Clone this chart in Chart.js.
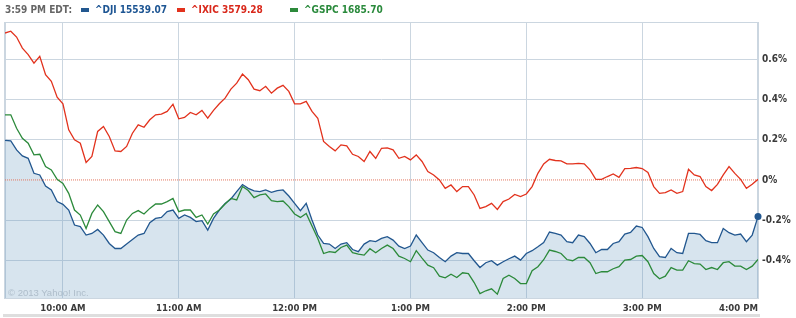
<!DOCTYPE html>
<html>
<head>
<meta charset="utf-8">
<script src="https://cdn.jsdelivr.net/npm/chart.js@4.4.0/dist/chart.umd.min.js"></script>
<style>
  html, body { margin: 0; padding: 0; background: #fff; }
  #wrap { position: relative; width: 796px; height: 318px; overflow: hidden; }
  #myChart { position: absolute; left: 0; top: 0; }
  #cabecera { position: absolute; left: 0; top: 0; height: 20px; width: 796px;
    font: bold 10px "DejaVu Sans Condensed", "DejaVu Sans", sans-serif; }
  #cabecera span { position: absolute; top: 4px; white-space: nowrap; }
  #cabecera i { position: absolute; top: 8px; width: 8px; height: 4px; }
  #copy { position: absolute; left: 8px; top: 287px; color: #aebdca;
    font: 9.5px "Liberation Sans", Arial, sans-serif; }
  #raya { position: absolute; left: 3px; top: 314px; width: 757px; height: 3px; background: #dedede; }
</style>
</head>
<body>
<div id="wrap">
  <canvas id="myChart" width="796" height="318"></canvas>
  <div id="cabecera"></div>
  <div id="copy">© 2013 Yahoo! Inc.</div>
  <div id="raya"></div>
</div>
<script>
// hora de la cabecera y nombres de los indices
let horaCierre = '3:59 PM EDT:';
let nombres = ['^DJI', '^IXIC', '^GSPC'];
let cierres = ['15539.07', '3579.28', '1685.70'];
let colores = ['#22578f', '#e2321d', '#2c8a3b'];
let coloresTexto = ['#1d5593', '#d9281b', '#2a8a3c'];
let legendaX = [81, 177, 290];

// eje x: minutos desde las 9:30
let pasoMin = 3;
let xTicks = [0, 30, 90, 150, 210, 270, 330, 390];
let xEtiquetas = ['', '10:00 AM', '11:00 AM', '12:00 PM', '1:00 PM', '2:00 PM', '3:00 PM', '4:00 PM'];

// eje y: cambio en %
let yTicks = [-0.4, -0.2, 0, 0.2, 0.4, 0.6];
let yEtiquetas = ['-0.4%', '-0.2%', '0%', '0.2%', '0.4%', '0.6%'];

// series (% de cambio cada 3 minutos)
let dji = [
  0.197, 0.195, 0.15, 0.12, 0.108, 0.033, 0.025, -0.03, -0.05, -0.108, -0.122, -0.15, -0.225, -0.233, -0.275, -0.267, -0.247, -0.275, -0.317, -0.342, -0.342, -0.32,
  -0.297, -0.275, -0.267, -0.213, -0.192, -0.187, -0.158, -0.15, -0.192, -0.175, -0.187, -0.208, -0.203, -0.25, -0.192, -0.15, -0.117, -0.095, -0.058, -0.023, -0.042, -0.055,
  -0.058, -0.05, -0.062, -0.053, -0.05, -0.08, -0.117, -0.153, -0.117, -0.2, -0.275, -0.317, -0.32, -0.342, -0.32, -0.313, -0.347, -0.358, -0.32, -0.303, -0.308, -0.292,
  -0.283, -0.3, -0.33, -0.342, -0.33, -0.275, -0.313, -0.35, -0.363, -0.387, -0.408, -0.38, -0.363, -0.367, -0.367, -0.403, -0.437, -0.413, -0.403, -0.425, -0.408, -0.393,
  -0.38, -0.4, -0.367, -0.353, -0.333, -0.312, -0.26, -0.267, -0.275, -0.308, -0.313, -0.275, -0.283, -0.317, -0.363, -0.347, -0.347, -0.317, -0.308, -0.27, -0.262, -0.23,
  -0.237, -0.283, -0.342, -0.383, -0.387, -0.342, -0.363, -0.367, -0.267, -0.267, -0.272, -0.303, -0.313, -0.313, -0.242, -0.263, -0.275, -0.27, -0.308, -0.275, -0.183
];
let ixic = [
  0.733, 0.742, 0.713, 0.658, 0.625, 0.583, 0.617, 0.525, 0.492, 0.413, 0.38, 0.25, 0.2, 0.183, 0.087, 0.117, 0.242, 0.267, 0.217, 0.145, 0.142, 0.167,
  0.233, 0.275, 0.263, 0.3, 0.325, 0.328, 0.342, 0.378, 0.305, 0.312, 0.337, 0.325, 0.347, 0.308, 0.347, 0.38, 0.408, 0.453, 0.483, 0.528, 0.5, 0.453,
  0.445, 0.467, 0.433, 0.458, 0.472, 0.442, 0.38, 0.38, 0.392, 0.342, 0.308, 0.192, 0.167, 0.145, 0.175, 0.17, 0.128, 0.117, 0.092, 0.142, 0.108, 0.158,
  0.16, 0.15, 0.108, 0.117, 0.1, 0.125, 0.092, 0.042, 0.025, 0, -0.042, -0.025, -0.058, -0.033, -0.033, -0.075, -0.142, -0.133, -0.117, -0.147, -0.108, -0.095,
  -0.072, -0.083, -0.07, -0.033, 0.033, 0.08, 0.103, 0.097, 0.095, 0.08, 0.08, 0.083, 0.08, 0.05, 0.003, 0.003, 0.017, 0.03, 0.013, 0.057, 0.058, 0.062,
  0.057, 0.037, -0.033, -0.067, -0.063, -0.05, -0.067, -0.058, 0.053, 0.025, 0.017, -0.033, -0.053, -0.022, 0.025, 0.067, 0.033, 0.003, -0.042, -0.022, 0.003
];
let gspc = [
  0.325, 0.325, 0.258, 0.208, 0.183, 0.125, 0.128, 0.067, 0.05, 0.003, -0.017, -0.067, -0.15, -0.175, -0.242, -0.167, -0.125, -0.158, -0.208, -0.258, -0.267, -0.2,
  -0.167, -0.153, -0.17, -0.142, -0.12, -0.12, -0.108, -0.092, -0.158, -0.15, -0.15, -0.187, -0.175, -0.22, -0.17, -0.15, -0.12, -0.092, -0.1, -0.033, -0.053, -0.088,
  -0.075, -0.07, -0.103, -0.108, -0.105, -0.133, -0.17, -0.187, -0.167, -0.23, -0.292, -0.367, -0.358, -0.362, -0.337, -0.325, -0.363, -0.37, -0.375, -0.343, -0.363, -0.342,
  -0.325, -0.342, -0.38, -0.392, -0.408, -0.353, -0.39, -0.425, -0.438, -0.48, -0.488, -0.47, -0.487, -0.463, -0.467, -0.512, -0.567, -0.553, -0.543, -0.57, -0.492, -0.475,
  -0.492, -0.517, -0.517, -0.453, -0.433, -0.398, -0.35, -0.357, -0.367, -0.397, -0.403, -0.387, -0.387, -0.413, -0.467, -0.458, -0.458, -0.443, -0.433, -0.4, -0.397, -0.38,
  -0.377, -0.408, -0.467, -0.493, -0.48, -0.437, -0.45, -0.45, -0.403, -0.417, -0.42, -0.447, -0.437, -0.447, -0.413, -0.408, -0.43, -0.43, -0.447, -0.43, -0.397
];
let linea0 = [0, 0];

let colorRejilla = '#cbd6e0';

function puntos(valores) {
  let res = [];
  for (var i = 0; i < valores.length; i++) {
    res.push({ x: i * pasoMin, y: valores[i] });
  }
  return res;
}

// cabecera
let cab = document.getElementById('cabecera');
cab.innerHTML = `<span style="left:5px;color:#666">${horaCierre}</span>`;
for (var i = 0; i < nombres.length; i++) {
  cab.innerHTML += `<i style="left:${legendaX[i]}px;background:${colores[i]}"></i>` +
    `<span style="left:${legendaX[i] + 14}px;color:${coloresTexto[i]}">${nombres[i]} ${cierres[i]}</span>`;
}

// borde del area de dibujo
let borde = {
  id: 'borde',
  beforeDatasetsDraw(chart) {
    let a = chart.chartArea;
    let c = chart.ctx;
    c.save();
    c.strokeStyle = colorRejilla;
    c.lineWidth = 1;
    c.strokeRect(Math.round(a.left) - 0.5, Math.round(a.top) + 0.5, Math.round(a.right - a.left), Math.round(a.bottom - a.top));
    c.restore();
  }
};

let ultimo = dji.length - 1;
let ctx = document.getElementById('myChart').getContext('2d');
let chart = new Chart(ctx, {
  type: 'line',
  data: {
    datasets: [
      {
        label: nombres[0], data: puntos(dji), borderColor: colores[0], borderWidth: 1.3,
        backgroundColor: 'rgba(100,150,190,0.26)', fill: 'start', tension: 0,
        pointRadius: (c) => c.dataIndex === ultimo ? 3.5 : 0,
        pointBackgroundColor: colores[0], pointBorderWidth: 0,
        clip: { left: 0, top: 0, right: 6, bottom: 0 }, order: 4
      },
      {
        label: 'cero', data: [{ x: 0, y: linea0[0] }, { x: 390, y: linea0[1] }],
        borderColor: '#e5765e', borderWidth: 1, borderDash: [1, 1], pointRadius: 0, fill: false, order: 3
      },
      {
        label: nombres[2], data: puntos(gspc), borderColor: colores[2], borderWidth: 1.3,
        pointRadius: 0, fill: false, tension: 0, order: 2
      },
      {
        label: nombres[1], data: puntos(ixic), borderColor: colores[1], borderWidth: 1.3,
        pointRadius: 0, fill: false, tension: 0, order: 1
      }
    ]
  },
  options: {
    responsive: false,
    animation: false,
    layout: { padding: { left: 4, top: 22, right: 0, bottom: 0 } },
    plugins: { legend: { display: false }, tooltip: { enabled: false } },
    scales: {
      x: {
        type: 'linear', min: 0, max: 390,
        afterBuildTicks: (s) => { s.ticks = xTicks.map(v => ({ value: v })); },
        afterFit: (s) => { s.height = 20; },
        grid: { color: colorRejilla, drawTicks: false },
        border: { color: colorRejilla },
        ticks: {
          autoSkip: false, maxRotation: 0, padding: 5, align: 'inner', color: '#3a3a3a',
          font: { family: '"DejaVu Sans Condensed", "DejaVu Sans"', size: 9.5, weight: 'bold' },
          callback: (v) => xEtiquetas[xTicks.indexOf(v)]
        }
      },
      y: {
        position: 'right', min: -0.589, max: 0.788,
        afterBuildTicks: (s) => { s.ticks = yTicks.map(v => ({ value: v })); },
        afterFit: (s) => { s.width = 38; },
        grid: { color: (c) => (c.tick && c.tick.value === 0) ? 'rgba(0,0,0,0)' : colorRejilla, drawTicks: false },
        border: { color: colorRejilla },
        ticks: {
          padding: 4, color: '#3a3a3a',
          font: { family: '"DejaVu Sans Condensed", "DejaVu Sans"', size: 10, weight: 'bold' },
          callback: (v) => yEtiquetas[yTicks.indexOf(v)]
        }
      }
    }
  },
  plugins: [borde]
});
</script>
</body>
</html>
